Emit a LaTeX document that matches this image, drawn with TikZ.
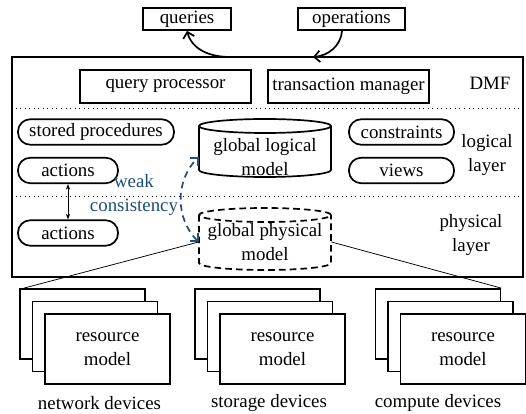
\documentclass[tikz,border=0pt]{standalone}
\usepackage{fontspec}
\setmainfont{Liberation Serif}
\usepackage{tikz}
\usetikzlibrary{arrows.meta, positioning, calc}

\definecolor{linkblue}{RGB}{31,78,121}

\newcommand{\drumshape}[4]{%
  \draw[#4] (#1-66,#2-7) -- (#1-66,#3+7) arc[start angle=180, end angle=360, x radius=66, y radius=7] -- (#1+66,#2-7);
  \draw[#4] (#1,#2-7) ellipse[x radius=66, y radius=7];}

\begin{document}
\begin{tikzpicture}[x=0.53pt, y=0.53pt,
    every node/.style={font=\fontsize{10}{12.5}\selectfont},
    box/.style={draw, line width=0.9pt, rectangle, minimum width=#1, align=center, inner sep=1pt},
    box/.default=50pt,
    pill/.style={draw, line width=0.9pt, rectangle, rounded corners=6.5pt, minimum width=#1, minimum height=13.5pt, inner sep=1pt},
    resbox/.style={draw, line width=0.9pt, fill=white, minimum width=66.3pt, minimum height=37.1pt, align=center},
    tip/.style={-{Straight Barb[length=3pt, width=6pt]}}]

  \useasboundingbox (0,0) rectangle (526,414);

  \node[box=46.6pt, minimum height=11.7pt] (queries) at (187,395) {queries};
  \node[box=56.7pt, minimum height=11.7pt] (operations) at (351.5,395) {operations};

  \node[draw, line width=0.9pt, minimum width=270.8pt, minimum height=116.6pt] (dmf) at (267.5,247) {};
  \coordinate (qsrc) at (230,357);
  \coordinate (odst) at (313,357);
  \draw[tip, line width=0.9pt] (qsrc) to[out=180, in=-75] (queries.south);
  \draw[tip, line width=0.9pt] ([xshift=-5pt]operations.south) to[out=-95, in=5] (odst);

  \node[box=90.6pt, minimum height=17.5pt] (qp) at (165.5,327.5) {query processor};
  \node[box=85.3pt, minimum height=17.5pt] (tm) at (348.5,327.5) {transaction manager};
  \node (dmflabel) at (490,331) {DMF};

  \draw[dotted] (dmf.west |- 0,306) -- (dmf.east |- 0,306);
  \draw[dotted] (dmf.west |- 0,218) -- (dmf.east |- 0,218);

  \node[pill=82.7pt] (sp) at (96,282) {stored procedures};
  \node[pill=53pt] (act1) at (68,243.5) {actions};
  \node[pill=53pt] (act2) at (68,181) {actions};
  \node[pill=55.7pt] (cons) at (401.5,282) {constraints};
  \node[pill=55.7pt] (views) at (401.5,243.5) {views};
  \node[align=center] (logl) at (487,259) {logical\\layer};
  \node[align=center] (physl) at (471,179) {physical\\layer};

  \drumshape{265}{295}{237}{line width=0.9pt}
  \node[align=center, minimum width=70pt, inner sep=0pt] (glm) at (265,257) {global logical\\model};
  \drumshape{265}{206}{144}{line width=0.9pt, dash pattern=on 3.5pt off 2.2pt}
  \node[align=center, minimum width=70pt, inner sep=0pt] (gpm) at (265,172) {global physical\\model};

  \draw[{Stealth[length=3pt]}-{Stealth[length=3pt]}, thin] (act1.south) -- (act2.north);
  \node[align=center, text=linkblue] (wc) at (134,219) {weak\\consistency};
  \draw[{Straight Barb[length=3pt, width=6pt]}-{Straight Barb[length=3pt, width=6pt]}, linkblue, line width=0.9pt, dash pattern=on 3.5pt off 2.5pt] (gpm.west) to[bend left=45] (glm.west);

  \node[resbox] (net1) at (82.5,90) {};
  \node[resbox] (net2) at (95,77.5) {};
  \node[resbox] (net3) at (107.5,65) {resource\\model};
  \node[resbox] (sto1) at (257.5,90) {};
  \node[resbox] (sto2) at (270,77.5) {};
  \node[resbox] (sto3) at (282.5,65) {resource\\model};
  \node[resbox] (cmp1) at (438,90) {};
  \node[resbox] (cmp2) at (450.5,77.5) {};
  \node[resbox] (cmp3) at (463,65) {resource\\model};

  \node (netl) at (99.5,11) {network devices};
  \node (stol) at (269,11) {storage devices};
  \node (cmpl) at (438,11) {compute devices};

  \draw[thin] (gpm.west) -- ([xshift=2.5pt]net1.north west);
  \draw[thin] (gpm.east) -- (cmp1.north east);
\end{tikzpicture}
\end{document}
